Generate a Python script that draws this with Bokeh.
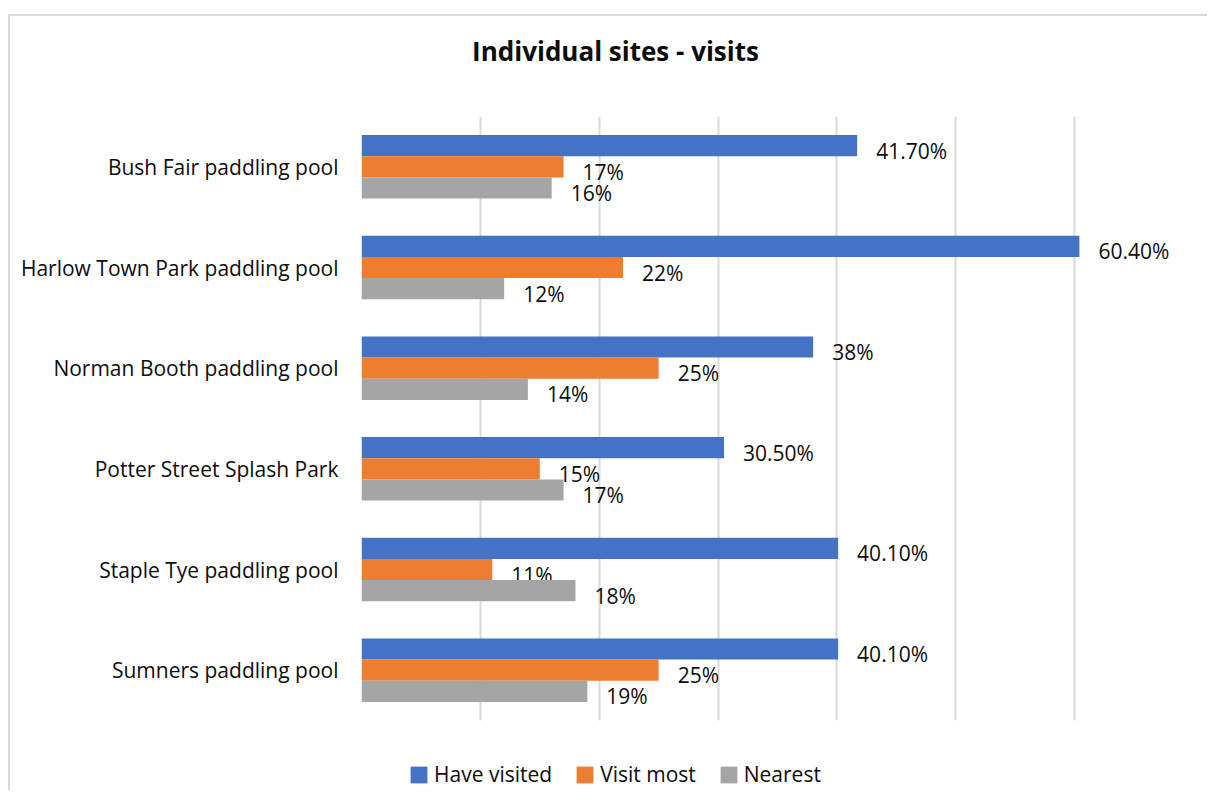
from bokeh.plotting import figure
from bokeh.layouts import column
from bokeh.models import (FactorRange, Range1d, Grid, SingleIntervalTicker,
                          Legend, LegendItem, ColumnDataSource, Label)
from bokeh.transform import dodge
from bokeh.core.properties import value
from bokeh.embed import file_html
from bokeh.resources import INLINE

categories = ["Bush Fair paddling pool", "Harlow Town Park paddling pool",
              "Norman Booth paddling pool", "Potter Street Splash Park",
              "Staple Tye paddling pool", "Sumners paddling pool"]
have_visited = [41.7, 60.4, 38.0, 30.5, 40.1, 40.1]
visit_most = [17, 22, 25, 15, 11, 25]
nearest = [16, 12, 14, 17, 18, 19]
series_names = ["Have visited", "Visit most", "Nearest"]
colors = ["#4472C4", "#ED7D31", "#A5A5A5"]
title_text = "Individual sites - visits"

FONT = "Open Sans"
TXT = "#0d0d0d"
FS = "21px"
W = 1197
FW = 832


def fmt(v):
    return f"{int(v)}%" if float(v).is_integer() else f"{v:.2f}%"


def blank(height):
    f = figure(width=W, height=height, x_range=Range1d(0, FW), y_range=Range1d(0, height),
               x_axis_location=None, y_axis_location=None,
               output_backend="svg", toolbar_location=None, min_border=0)
    f.outline_line_color = None
    f.grid.visible = False
    f.background_fill_color = "white"
    f.border_fill_color = "white"
    return f


# title strip (its frame is aligned with the chart frame by the column)
p0 = blank(100)
p0.add_layout(Label(x=254, y=66, text=title_text, text_align="center",
                    text_baseline="middle", text_font=FONT, text_font_size="26px",
                    text_font_style="bold", text_color=TXT))

# main chart
p = figure(frame_width=FW, frame_height=604,
           y_range=FactorRange(*categories[::-1], range_padding=0),
           x_range=Range1d(0, 70),
           x_axis_location=None,
           output_backend="svg", toolbar_location=None)
p.min_border_left = 351
p.min_border_right = W - 351 - FW
p.min_border_top = 0
p.min_border_bottom = 20
p.outline_line_color = None
p.ygrid.grid_line_color = None
p.background_fill_color = "white"
p.border_fill_color = "white"

p.add_layout(Grid(dimension=0, ticker=SingleIntervalTicker(interval=10),
                  grid_line_color="#d9d9d9", grid_line_width=2))

yax = p.yaxis[0]
yax.axis_line_color = None
yax.major_tick_line_color = None
yax.minor_tick_line_color = None
yax.major_label_standoff = 17
yax.major_label_text_font = FONT
yax.major_label_text_font_size = FS
yax.major_label_text_color = TXT

src = ColumnDataSource(dict(cat=categories, v0=have_visited, v1=visit_most, v2=nearest,
                            l0=[fmt(v) for v in have_visited],
                            l1=[fmt(v) for v in visit_most],
                            l2=[fmt(v) for v in nearest]))
bh = 0.21
offsets = [bh, 0.0, -bh]
for i, col in enumerate(colors):
    p.hbar(y=dodge("cat", offsets[i], range=p.y_range), right=f"v{i}", left=0,
           height=bh, source=src, fill_color=col, line_color=None)
    p.text(x=f"v{i}", y=dodge("cat", offsets[i], range=p.y_range), text=f"l{i}",
           source=src, x_offset=19, y_offset=5, text_baseline="middle",
           text_font=value(FONT), text_font_size=FS, text_color=TXT)

# legend strip: zero-size proxy bars only carry the legend swatch colours
p2 = blank(50)
items = []
for name, col in zip(series_names, colors):
    r = p2.hbar(y=[0], left=[0], right=[0], height=0, fill_color=col, line_color=None)
    items.append(LegendItem(label=name, renderers=[r]))
legend = Legend(items=items, orientation="horizontal", location=(47, 2),
                padding=0, margin=0, spacing=22, label_standoff=5,
                glyph_width=21, glyph_height=21,
                label_text_font=FONT, label_text_font_size=FS,
                label_text_color=TXT, border_line_color=None,
                background_fill_alpha=0)
p2.add_layout(legend, "center")

layout = column(p0, p, p2, spacing=0,
                styles={"margin-left": "8px", "margin-top": "14px",
                        "border-left": "2px solid #d9d9d9",
                        "border-top": "2px solid #d9d9d9"})

open("out.html", "w").write(file_html(layout, INLINE))
